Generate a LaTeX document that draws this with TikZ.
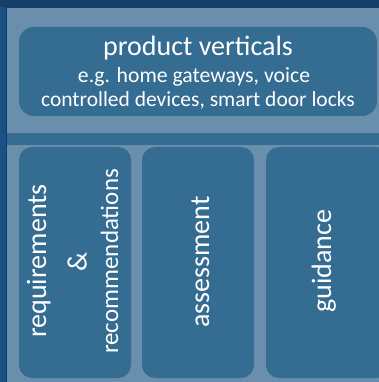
\documentclass[tikz,border=0pt]{standalone}
\usepackage{fontspec}
\setmainfont{Carlito}
\definecolor{bgdark}{HTML}{1B5083}
\definecolor{edgedark}{HTML}{0E3D6C}
\definecolor{panel}{HTML}{6A8FAC}
\definecolor{boxfill}{HTML}{356C91}
\begin{document}
\begin{tikzpicture}[x=1pt,y=-1pt,
  box/.style={fill=boxfill, rounded corners=13pt},
  txt/.style={text=white, inner sep=0pt},
  vtxt/.style={txt, rotate=90, anchor=base}]
\useasboundingbox (0,0) rectangle (379,382);
\fill[bgdark] (0,0) rectangle (379,382);
\fill[bgdark!80!black] (0,0) rectangle (379,7);
% panel
\fill[panel] (7,8) rectangle (379,382);
\draw[edgedark, line width=1.2pt] (6.4,8) -- (6.4,382);
\draw[edgedark, line width=1pt] (6,7.5) -- (379,7.5);
% strip
\fill[boxfill] (7,133) rectangle (379,145);
% top box
\fill[box, rounded corners=15pt] (19,27) rectangle (377,116);
\node[txt, anchor=base, font=\fontsize{28}{30}\selectfont] (t1) at (198,55.5) {product verticals};
\node[txt, anchor=base, font=\fontsize{21.7}{25}\selectfont] (t2) at (194,82.5) {e.g. home gateways, voice};
\node[txt, anchor=base, font=\fontsize{21.5}{25}\selectfont] (t3) at (198,107) {controlled devices, smart door locks};
% lower boxes
\fill[box] (19,147) rectangle (131,378);
\fill[box] (142,147) rectangle (254,378);
\fill[box] (266,147) rectangle (390,378);
\node[vtxt, font=\fontsize{28}{33}\selectfont] (b1a) at (46,261) {requirements};
\node[vtxt, font=\fontsize{28}{33}\selectfont] (b1b) at (86.5,261.5) {\&};
\node[vtxt, font=\fontsize{25}{33}\selectfont] (b1c) at (118,261.5) {recommendations};
\node[vtxt, font=\fontsize{28}{33}\selectfont] (b2) at (209,262) {assessment};
\node[vtxt, font=\fontsize{28}{33}\selectfont] (b3) at (331,261) {guidance};
\end{tikzpicture}
\end{document}
